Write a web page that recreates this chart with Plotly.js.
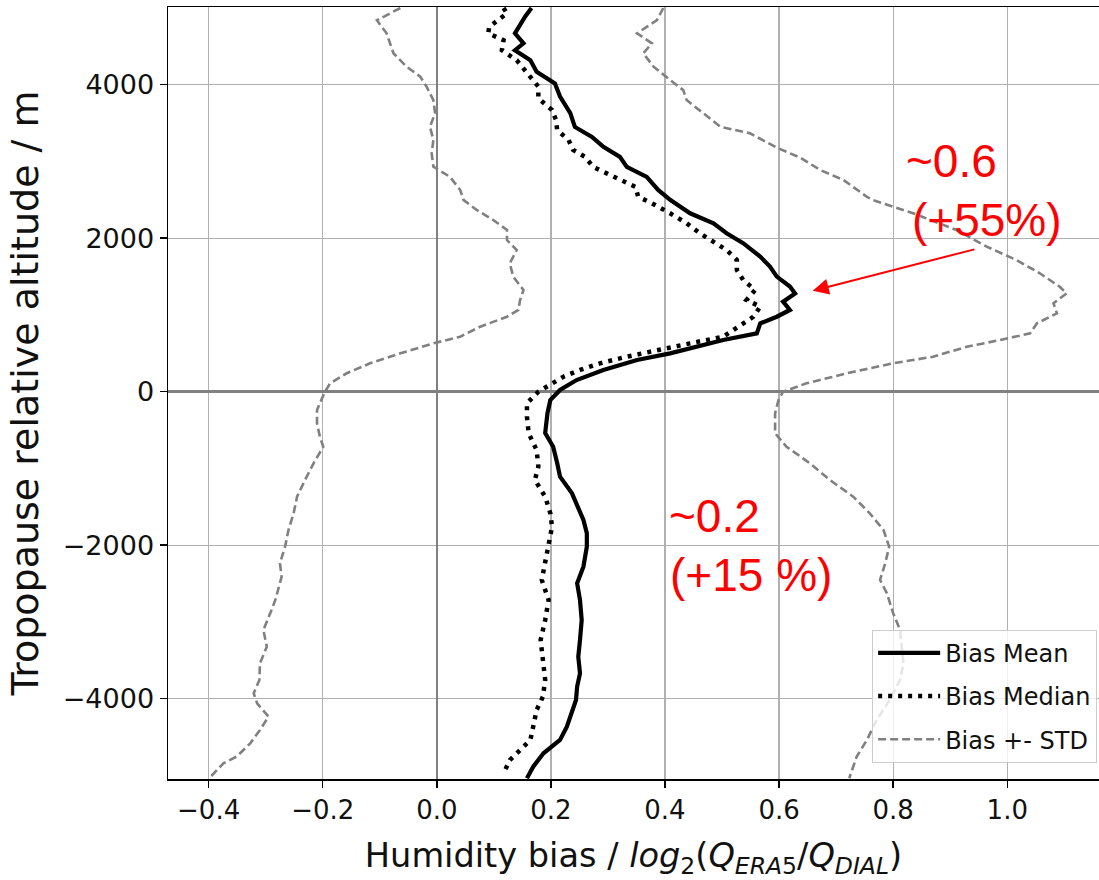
<!DOCTYPE html>
<html>
<head>
<meta charset="utf-8">
<script src="https://cdn.plot.ly/plotly-3.0.1.min.js"></script>
<style>html,body{margin:0;padding:0;background:#fff;}#chart{width:1099px;height:880px;}</style>
</head>
<body>
<div id="chart"></div>
<script>
// ---- Data ----
const meanAlt = [5000, 4890, 4670, 4540, 4450, 4320, 4170, 4018, 3845, 3630, 3450, 3320, 3190, 3060, 2930, 2800, 2630, 2500, 2325, 2195, 2065, 1935, 1760, 1630, 1500, 1370, 1280, 1173, 1065, 977, 890, 760, 673, 586, 500, 413, 283, 152, 22, -108, -280, -540, -717, -930, -1108, -1324, -1498, -1672, -1845, -2020, -2280, -2497, -2714, -2975, -3235, -3453, -3670, -3844, -4017, -4190, -4365, -4538, -4712, -4886, -5037];
const meanBias = [0.166, 0.155, 0.137, 0.152, 0.137, 0.164, 0.175, 0.207, 0.216, 0.234, 0.242, 0.272, 0.292, 0.321, 0.333, 0.368, 0.388, 0.409, 0.444, 0.485, 0.508, 0.537, 0.567, 0.584, 0.596, 0.619, 0.628, 0.607, 0.619, 0.596, 0.567, 0.561, 0.502, 0.456, 0.409, 0.351, 0.292, 0.245, 0.216, 0.199, 0.194, 0.190, 0.204, 0.211, 0.216, 0.237, 0.248, 0.257, 0.263, 0.263, 0.257, 0.246, 0.251, 0.254, 0.251, 0.248, 0.251, 0.246, 0.244, 0.237, 0.228, 0.216, 0.187, 0.169, 0.158];

const medianAlt = [5000, 4930, 4755, 4670, 4580, 4450, 4320, 4150, 3975, 3823, 3670, 3540, 3410, 3280, 3150, 3060, 2930, 2845, 2760, 2670, 2540, 2455, 2325, 2195, 2065, 1935, 1846, 1716, 1586, 1455, 1325, 1195, 1108, 977, 847, 717, 630, 543, 456, 370, 283, 195, 109, 0, -151, -326, -542, -760, -977, -1150, -1368, -1585, -1759, -1975, -2193, -2453, -2714, -2975, -3235, -3496, -3757, -3974, -4148, -4365, -4538, -4669, -4800, -4973];
const medianBias = [0.117, 0.123, 0.092, 0.090, 0.117, 0.114, 0.140, 0.158, 0.178, 0.178, 0.202, 0.209, 0.211, 0.231, 0.239, 0.260, 0.274, 0.298, 0.321, 0.348, 0.353, 0.377, 0.409, 0.438, 0.461, 0.488, 0.508, 0.526, 0.526, 0.537, 0.558, 0.543, 0.567, 0.555, 0.529, 0.502, 0.444, 0.386, 0.333, 0.286, 0.251, 0.222, 0.202, 0.178, 0.158, 0.158, 0.161, 0.175, 0.178, 0.172, 0.190, 0.199, 0.202, 0.196, 0.190, 0.184, 0.196, 0.190, 0.182, 0.186, 0.190, 0.186, 0.175, 0.169, 0.164, 0.146, 0.128, 0.117];

const lowerAlt = [5000, 4840, 4670, 4540, 4410, 4235, 4105, 3975, 3800, 3628, 3453, 3280, 3106, 2932, 2800, 2628, 2497, 2368, 2237, 2107, 1976, 1846, 1673, 1498, 1325, 1195, 1065, 977, 847, 717, 630, 500, 370, 240, 109, 0, -238, -412, -586, -717, -933, -1150, -1368, -1585, -1802, -2020, -2236, -2410, -2714, -2887, -3105, -3323, -3540, -3757, -3930, -4060, -4235, -4408, -4582, -4756, -4842, -5037];
const lowerBias = [-0.064, -0.105, -0.088, -0.082, -0.076, -0.053, -0.029, -0.018, -0.006, -0.003, -0.012, -0.006, -0.009, -0.006, 0.023, 0.041, 0.047, 0.070, 0.099, 0.123, 0.123, 0.140, 0.128, 0.134, 0.152, 0.146, 0.143, 0.123, 0.076, 0.041, -0.006, -0.064, -0.117, -0.158, -0.187, -0.196, -0.210, -0.210, -0.205, -0.199, -0.216, -0.231, -0.245, -0.251, -0.260, -0.266, -0.275, -0.272, -0.283, -0.292, -0.304, -0.298, -0.310, -0.311, -0.321, -0.315, -0.295, -0.310, -0.327, -0.351, -0.374, -0.399];

const upperAlt = [5000, 4843, 4670, 4540, 4410, 4235, 4061, 3930, 3800, 3628, 3453, 3367, 3180, 3050, 2889, 2758, 2540, 2497, 2325, 2107, 1890, 1716, 1543, 1368, 1282, 1152, 1021, 891, 760, 673, 586, 456, 370, 240, 109, 0, -108, -282, -542, -717, -933, -1150, -1368, -1585, -1802, -2020, -2236, -2453, -2627, -2887, -3105, -3323, -3540, -3757, -4017, -4278, -4538, -4756, -5037];
const upperBias = [0.397, 0.386, 0.351, 0.377, 0.362, 0.380, 0.409, 0.432, 0.438, 0.467, 0.497, 0.549, 0.596, 0.637, 0.672, 0.713, 0.754, 0.765, 0.835, 0.911, 0.964, 1.016, 1.057, 1.092, 1.104, 1.081, 1.087, 1.052, 1.040, 0.987, 0.929, 0.870, 0.800, 0.719, 0.648, 0.607, 0.599, 0.593, 0.593, 0.613, 0.654, 0.689, 0.730, 0.759, 0.783, 0.793, 0.786, 0.777, 0.789, 0.800, 0.812, 0.815, 0.818, 0.812, 0.794, 0.771, 0.754, 0.736, 0.723];

const xTickVals = [-0.4, -0.2, 0.0, 0.2, 0.4, 0.6, 0.8, 1.0];
const xTickText = ["\u22120.4", "\u22120.2", "0.0", "0.2", "0.4", "0.6", "0.8", "1.0"];
const yTickVals = [-4000, -2000, 0, 2000, 4000];
const yTickText = ["\u22124000", "\u22122000", "0", "2000", "4000"];

const seriesNames = ["Bias Mean", "Bias Median", "Bias +- STD"];

// ---- Traces ----
const traces = [
  {
    x: meanBias, y: meanAlt, type: "scatter", mode: "lines", name: seriesNames[0],
    legendgroup: "a",
    line: {color: "#000000", width: 4.2}
  },
  {
    x: medianBias, y: medianAlt, type: "scatter", mode: "lines", name: seriesNames[1],
    legendgroup: "b",
    line: {color: "#000000", width: 4.5, dash: "4px,6px"}
  },
  {
    x: lowerBias.concat([null], upperBias),
    y: lowerAlt.concat([null], upperAlt),
    type: "scatter", mode: "lines", name: seriesNames[2],
    legendgroup: "c", connectgaps: false,
    line: {color: "#808080", width: 2.6, dash: "8px,4px"}
  }
];

const FONT = "DejaVu Sans, sans-serif";
const RED = "#ff0000";
const annFont = {family: "Arial, Liberation Sans, sans-serif", size: 46, color: RED};

const layout = {
  width: 1099, height: 880,
  margin: {l: 168, r: 0, t: 7, b: 101, pad: 0},
  paper_bgcolor: "#ffffff", plot_bgcolor: "#ffffff",
  font: {family: FONT, color: "#000000"},
  showlegend: true,
  xaxis: {
    range: [-0.4712, 1.1608],
    tickmode: "array", tickvals: xTickVals, ticktext: xTickText,
    ticks: "outside", ticklen: 7, tickwidth: 1.5, tickcolor: "#000000",
    tickfont: {family: FONT, size: 26, color: "#111111"},
    showgrid: true, gridcolor: "#b0b0b0", gridwidth: 1.2,
    zeroline: true, zerolinecolor: "#808080", zerolinewidth: 2.5,
    showline: true, linecolor: "#000000", linewidth: 1.5, mirror: true,
    title: {
      text: "Humidity bias / <i>log</i><sub>2</sub>(<i>Q</i><sub><i>ERA</i>5</sub>/<i>Q</i><sub><i>DIAL</i></sub>)",
      font: {family: FONT, size: 33.6, color: "#111111"},
      standoff: 21
    },
    fixedrange: true
  },
  yaxis: {
    range: [-5047, 5013],
    tickmode: "array", tickvals: yTickVals, ticktext: yTickText,
    ticks: "outside", ticklen: 7, tickwidth: 1.5, tickcolor: "#000000",
    tickfont: {family: FONT, size: 27, color: "#111111"},
    showgrid: true, gridcolor: "#b0b0b0", gridwidth: 1.2,
    zeroline: true, zerolinecolor: "#808080", zerolinewidth: 2.5,
    showline: true, linecolor: "#000000", linewidth: 1.5, mirror: false,
    title: {
      text: "Tropopause relative altitude / m",
      font: {family: FONT, size: 38, color: "#111111"},
      standoff: 12
    },
    fixedrange: true
  },
  legend: {
    x: 0.998, y: 0.021, xanchor: "right", yanchor: "bottom",
    bgcolor: "rgba(255,255,255,0.8)", bordercolor: "#cccccc", borderwidth: 1,
    font: {family: FONT, size: 24, color: "#111111"},
    traceorder: "grouped", tracegroupgap: 9,
    itemwidth: 62
  },
  annotations: [
    {x: 0.819, y: 3006, xref: "x", yref: "y", text: "~0.6", showarrow: false,
     xanchor: "left", yanchor: "middle", font: annFont},
    {x: 0.830, y: 2237, xref: "x", yref: "y", text: "(+55%)", showarrow: false,
     xanchor: "left", yanchor: "middle", font: annFont},
    {x: 0.404, y: -1620, xref: "x", yref: "y", text: "~0.2", showarrow: false,
     xanchor: "left", yanchor: "middle", font: annFont},
    {x: 0.405, y: -2390, xref: "x", yref: "y", text: "(+15 %)", showarrow: false,
     xanchor: "left", yanchor: "middle", font: annFont},
    {x: 0.659, y: 1316, xref: "x", yref: "y",
     ax: 0.945, ay: 1860, axref: "x", ayref: "y",
     text: "", showarrow: true, arrowhead: 2, arrowsize: 1.6, arrowwidth: 2,
     arrowcolor: RED, standoff: 0, startstandoff: 0}
  ]
};

Plotly.newPlot("chart", traces, layout, {displayModeBar: false, staticPlot: true});
</script>
</body>
</html>
